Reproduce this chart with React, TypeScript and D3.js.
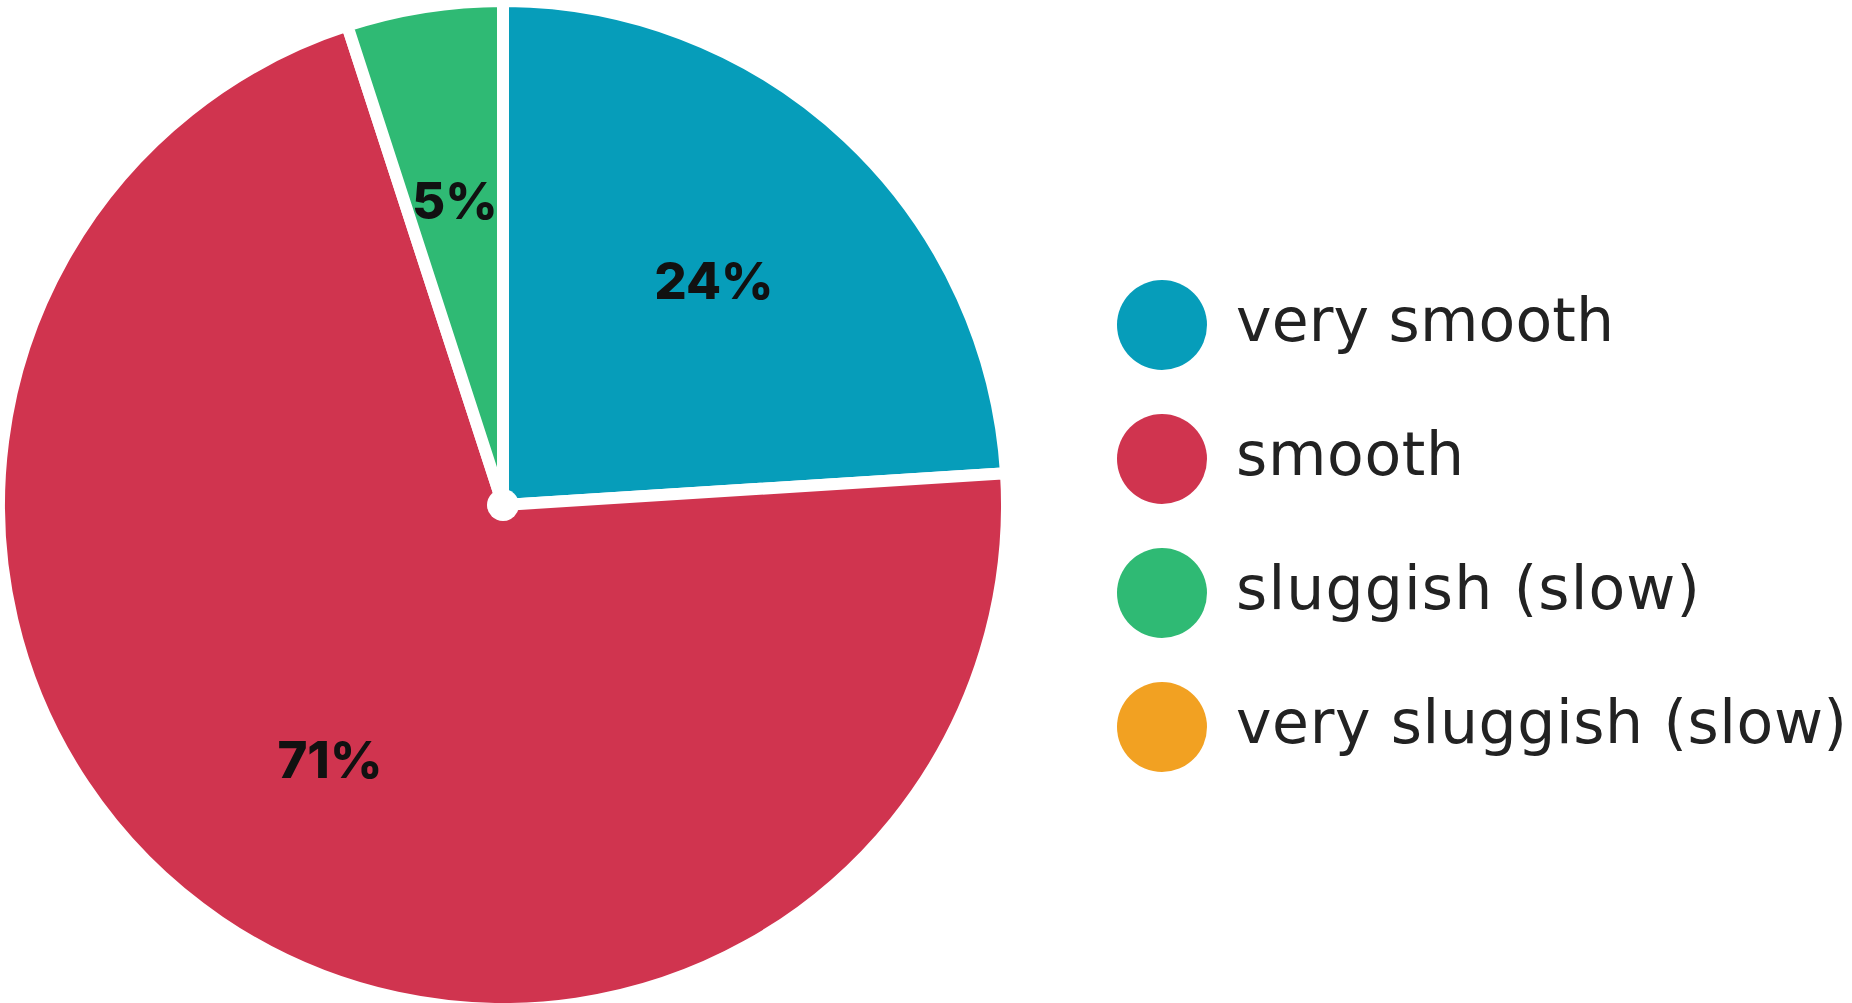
import React from "react";
import * as d3 from "d3";

const categories = ["very smooth", "smooth", "sluggish (slow)", "very sluggish (slow)"];
const values = [24, 71, 5, 0];
const colors = ["#069DBA", "#D0344F", "#2FBA74", "#F2A122"];
const labels = ["24%", "71%", "5%", ""];

export default function App() {
  const W = 1852, H = 1003;
  const cx = 503, cy = 505, R = 504;
  const pie = d3.pie<number>().sort(null).value((d) => d);
  const arcs = pie(values);
  const arc = d3.arc<d3.PieArcDatum<number>>().innerRadius(0).outerRadius(R);
  const labelArc = d3.arc<d3.PieArcDatum<number>>().innerRadius(616).outerRadius(0);
  const legendY = d3.scalePoint<string>().domain(categories).range([325, 727]);
  const legendWidths = [378, 228, 464, 611];
  return (
    <svg width={W} height={H} style={{ position: "absolute", left: 0, top: 0, background: "#fff" }}>
      <g transform={`translate(${cx},${cy})`}>
        {arcs.map((a, i) =>
          a.value > 0 ? (
            <path key={i} d={arc(a) || ""} fill={colors[i]} stroke="#fff" strokeWidth={12} strokeLinejoin="round" />
          ) : null
        )}
        <circle r={16} fill="#fff" />
        {arcs.map((a, i) => {
          if (!a.value) return null;
          const [x, y] = labelArc.centroid(a);
          return (
            <text key={i} x={x} y={y} textAnchor="middle" dominantBaseline="central"
              fontFamily="Inter, 'Noto Sans', sans-serif" fontWeight={800} fontSize={51} fill="#111">
              {labels[i]}
            </text>
          );
        })}
      </g>
      {categories.map((c, i) => (
        <g key={c}>
          <circle cx={1162} cy={legendY(c)} r={45} fill={colors[i]} />
          <text x={1236} y={(legendY(c) as number) + 16} fontFamily="'DejaVu Sans', sans-serif"
            fontSize={60} fill="#222" textLength={legendWidths[i]} lengthAdjust="spacing">
            {c}
          </text>
        </g>
      ))}
    </svg>
  );
}
